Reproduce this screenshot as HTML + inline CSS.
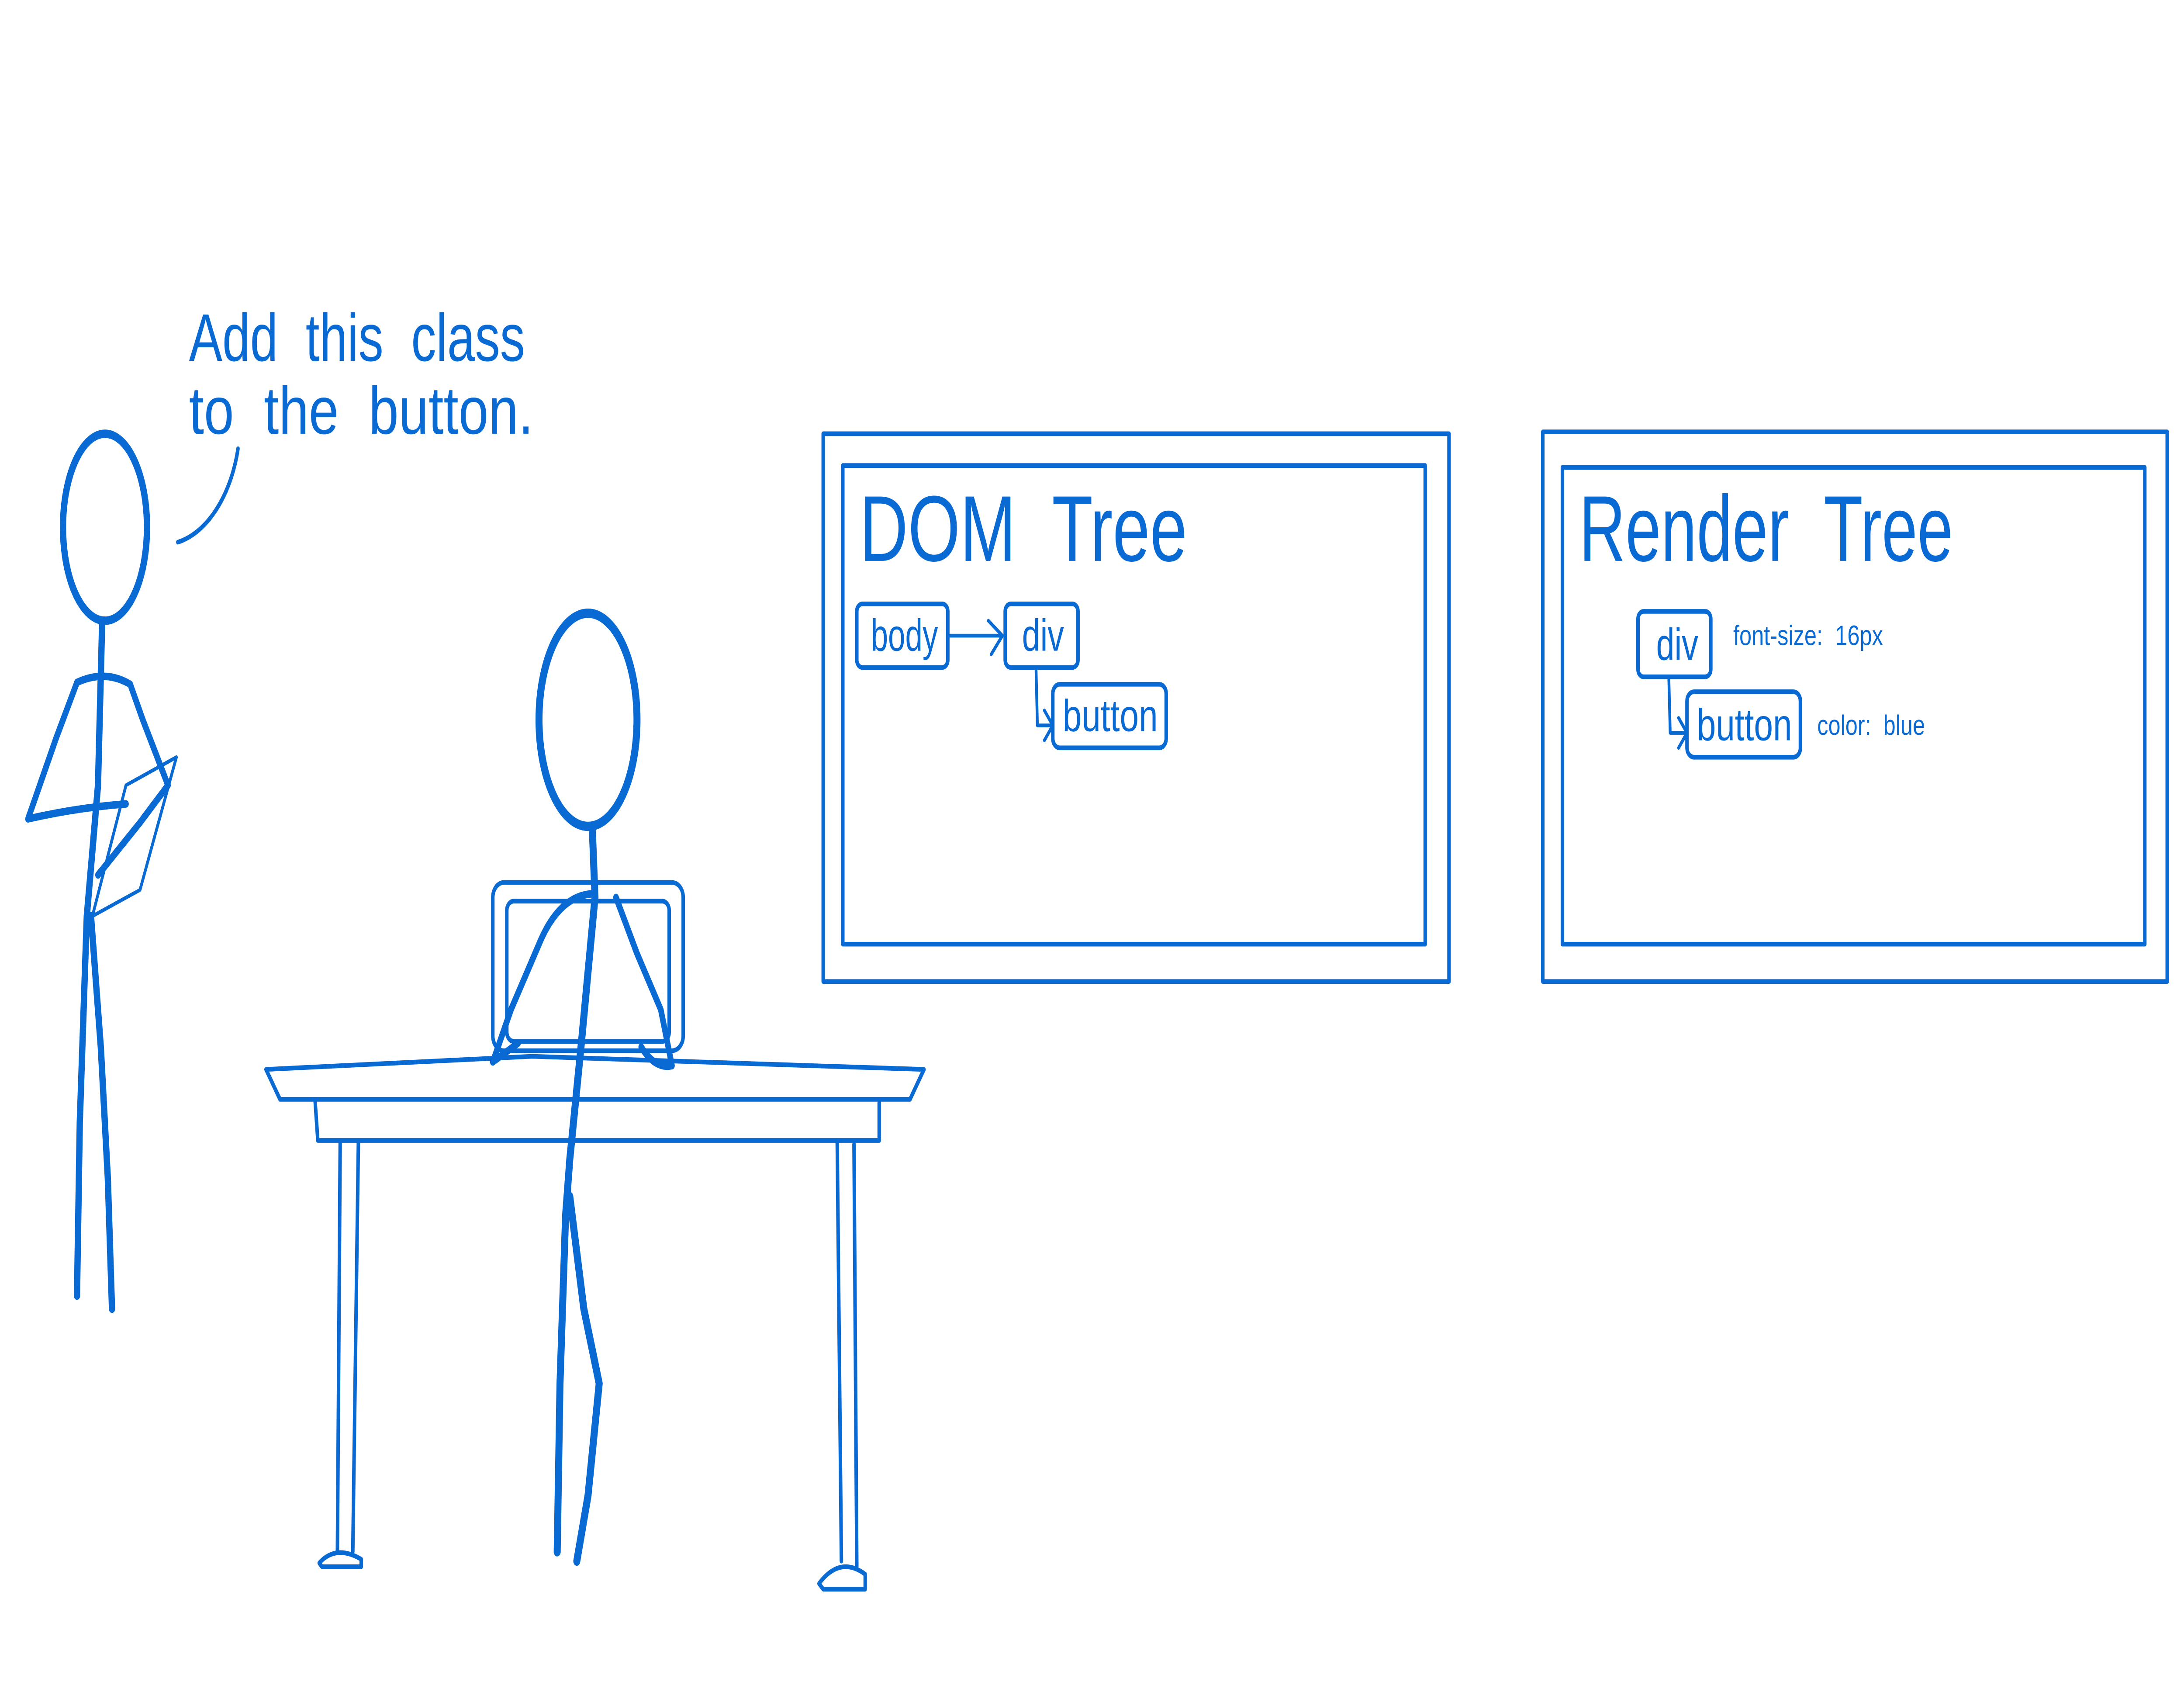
<!DOCTYPE html>
<html><head><meta charset="utf-8"><style>
html,body{margin:0;padding:0;background:#fff;width:100vw;height:100vh;overflow:hidden}
svg{display:block;position:fixed;left:0;top:0;width:100vw;height:100vh}
text{font-family:"Liberation Sans",sans-serif;fill:#0a6ad4;white-space:pre}
</style></head><body>
<svg viewBox="0 0 1560 905" preserveAspectRatio="none" xmlns="http://www.w3.org/2000/svg" xml:space="preserve">
<g fill="none" stroke="#0a6ad4" stroke-linecap="round" stroke-linejoin="round">
<path d="M170,240 C165,265 148,285 127,290" stroke-width="2.5"/>
<ellipse cx="75" cy="282" rx="30" ry="50" stroke-width="4.5"/>
<path d="M73,332 L70,420 L62,490 L57,600 L55,693" stroke-width="4.5"/>
<path d="M65,490 L72,560 L77,630 L80,700" stroke-width="4.5"/>
<path d="M55,365 Q75,358 93,366 L102,385 L120,420 L100,440 L70,468" stroke-width="4"/>
<path d="M55,365 L40,395 L20,438 Q55,432 90,430" stroke-width="4"/>
<path d="M90,420 L126,405 L100,476 L66,490 Z" stroke-width="2"/>
<ellipse cx="420" cy="385" rx="35" ry="57" stroke-width="5"/>
<path d="M423,442 L425,480 L415,560 L407,620 L404,650 L400,740 L398,830" stroke-width="5"/>
<path d="M407,640 L417,700 L428,740 L420,800 L412,835" stroke-width="5"/>
<rect x="352" y="472" width="136" height="90" rx="8" stroke-width="2.5"/>
<rect x="362" y="482" width="116" height="75" rx="5" stroke-width="2.5"/>
<path d="M425,478 Q400,478 385,505 L365,540 L352,568 L370,558" stroke-width="4"/>
<path d="M440,480 L455,510 L472,540 L480,570 Q468,572 458,560" stroke-width="4"/>
<path d="M190,572 L380,565 L660,572 L650,588 L200,588 Z" stroke-width="2.5"/>
<path d="M225,588 L227,610 L628,610 L628,588" stroke-width="2.5"/>
<path d="M243,610 L241,830 M256,610 L252,830" stroke-width="2.5"/>
<path d="M228,836 Q240,826 258,834 L258,838 L230,838 Z" stroke-width="2.5"/>
<path d="M598,610 L601,835 M610,612 L612,838" stroke-width="2.5"/>
<path d="M585,847 Q600,832 618,842 L618,850 L588,850 Z" stroke-width="2.5"/>
<rect x="588" y="232" width="447" height="293" stroke-width="2.5"/>
<rect x="602" y="249" width="416" height="256" stroke-width="2.5"/>
<rect x="612" y="323" width="65" height="34" rx="4" stroke-width="2.5"/>
<rect x="718" y="323" width="52" height="34" rx="4" stroke-width="2.5"/>
<rect x="752" y="366" width="81" height="34" rx="5" stroke-width="2.5"/>
<path d="M677,340 L716,340 M706,332 L716,340 L708,350" stroke-width="2"/>
<path d="M740,357 L741,388 L752,388 M746,380 L752,388 L746,396" stroke-width="2"/>
<rect x="1102" y="231" width="446" height="294" stroke-width="2.5"/>
<rect x="1116" y="250" width="416" height="255" stroke-width="2.5"/>
<rect x="1170" y="327" width="52" height="35" rx="4" stroke-width="2.5"/>
<rect x="1205" y="370" width="81" height="35" rx="5" stroke-width="2.5"/>
<path d="M1192,362 L1193,392 L1205,392 M1199,384 L1205,392 L1199,400" stroke-width="2"/>
</g>
<text x="135" y="193" font-size="36" textLength="240" lengthAdjust="spacingAndGlyphs">Add  this  class</text>
<text x="135" y="232" font-size="36" textLength="246" lengthAdjust="spacingAndGlyphs">to  the  button.</text>
<text x="614" y="300" font-size="50" textLength="234" lengthAdjust="spacingAndGlyphs">DOM  Tree</text>
<text x="622" y="348" font-size="24" textLength="48" lengthAdjust="spacingAndGlyphs">body</text>
<text x="730" y="348" font-size="24" textLength="30" lengthAdjust="spacingAndGlyphs">div</text>
<text x="759" y="391" font-size="24" textLength="68" lengthAdjust="spacingAndGlyphs">button</text>
<text x="1128" y="300" font-size="50" textLength="267" lengthAdjust="spacingAndGlyphs">Render  Tree</text>
<text x="1183" y="353" font-size="24" textLength="30" lengthAdjust="spacingAndGlyphs">div</text>
<text x="1212" y="396" font-size="24" textLength="68" lengthAdjust="spacingAndGlyphs">button</text>
<text x="1238" y="345" font-size="15" textLength="107" lengthAdjust="spacingAndGlyphs">font-size:  16px</text>
<text x="1298" y="393" font-size="15" textLength="77" lengthAdjust="spacingAndGlyphs">color:  blue</text>
</svg>
</body></html>
